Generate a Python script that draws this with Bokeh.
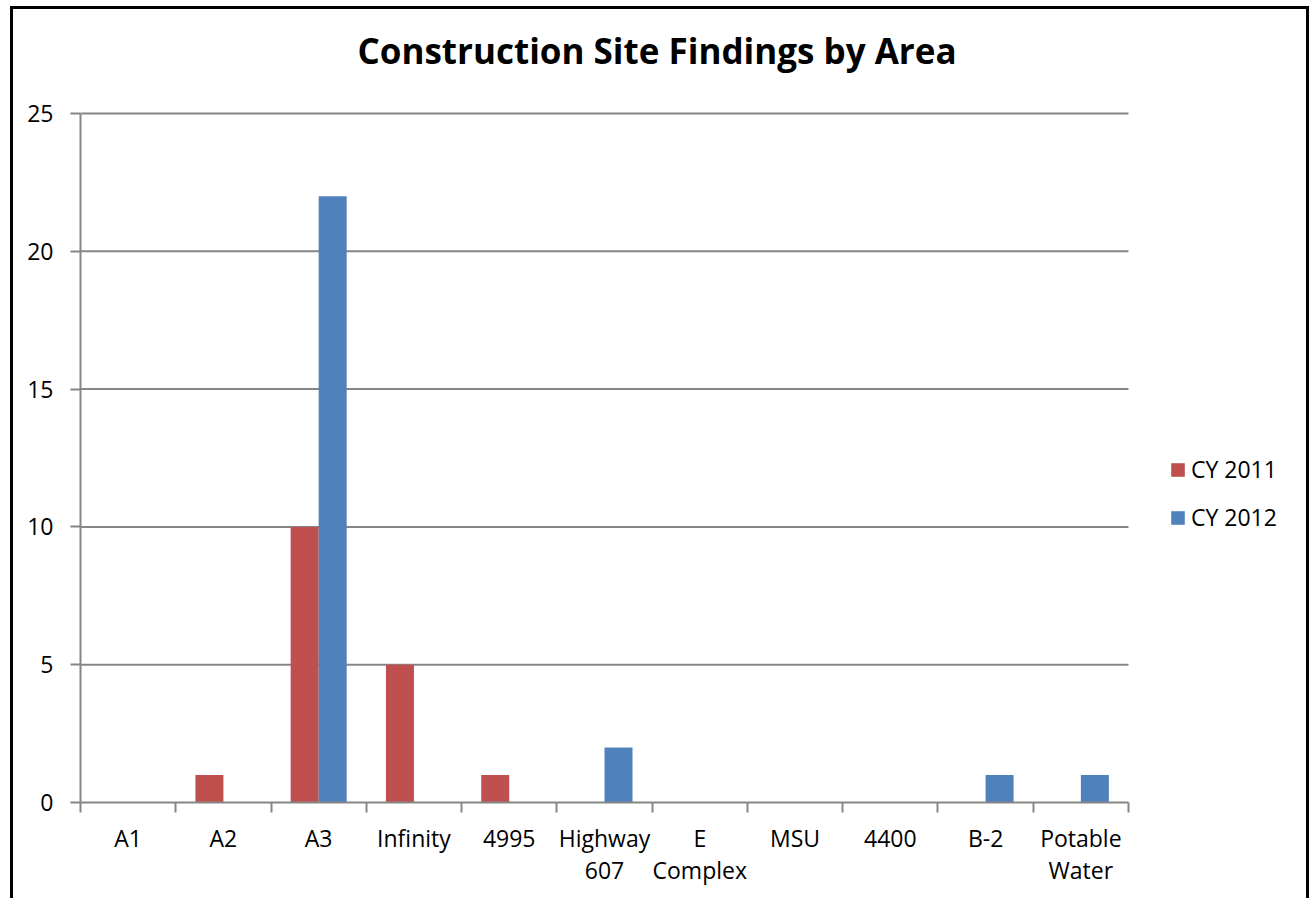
from bokeh.plotting import figure
from bokeh.models import (FixedTicker, Legend, LegendItem, ColumnDataSource,
                          Range1d, Title)
from bokeh.embed import file_html
from bokeh.resources import INLINE
import numpy as np

# ---- data ----
areas = ["A1", "A2", "A3", "Infinity", "4995", "Highway\n607", "E\nComplex",
         "MSU", "4400", "B-2", "Potable\nWater"]
cy2011 = [0, 1, 10, 5, 1, 0, 0, 0, 0, 0, 0]
cy2012 = [0, 0, 22, 0, 0, 2, 0, 0, 0, 1, 1]
series_names = ["CY 2011", "CY 2012"]
y_ticks = [0, 5, 10, 15, 20, 25]

RED = "#C0504D"
BLUE = "#4F81BD"
GRID = "#868686"
FONT = "Open Sans"

n = len(areas)
y_max = y_ticks[-1]
centers = np.arange(n) + 0.5
bw = 0.294

# layout (pixels)
W, H = 1299, 892
PLOT_W = 1048          # width of the category area
PLOT_H = 689           # height of 0..25
LEFT, RIGHT_EXTRA, RIGHT = 67, 178, 6
TOP_PAD = 2
TOP = 102
BOTTOM = H - TOP - TOP_PAD - PLOT_H

x_end = n * (PLOT_W + RIGHT_EXTRA) / PLOT_W
y_end = y_max * (PLOT_H + TOP_PAD) / PLOT_H

p = figure(width=W, height=H, output_backend="svg", toolbar_location=None,
           x_range=Range1d(0, x_end), y_range=Range1d(0, y_end),
           min_border_left=LEFT, min_border_right=RIGHT, min_border_top=TOP,
           min_border_bottom=BOTTOM, title="Construction Site Findings by Area")
p.styles = {"border-top": "3px solid black", "border-left": "3px solid black",
            "border-right": "3px solid black", "margin-left": "10px",
            "margin-top": "6px"}
p.outline_line_color = None
p.background_fill_color = "white"
p.border_fill_color = "white"

p.title.text_font = FONT
p.title.text_font_size = "35px"
p.title.text_font_style = "bold"
p.title.text_color = "black"
p.title.align = "left"
p.title.offset = 277
p.title.standoff = 10
spacer = Title(text=" ", text_font=FONT, text_font_size="22px", standoff=1)
p.add_layout(spacer, "above")

# horizontal grid lines limited to the category area
p.segment(x0=0, x1=n, y0=y_ticks[1:], y1=y_ticks[1:], line_color=GRID, line_width=2)

src11 = ColumnDataSource(dict(x=centers - bw / 2, top=cy2011))
src12 = ColumnDataSource(dict(x=centers + bw / 2, top=cy2012))
r1 = p.vbar(x="x", top="top", bottom=0, width=bw, source=src11, fill_color=RED, line_color=None)
r2 = p.vbar(x="x", top="top", bottom=0, width=bw, source=src12, fill_color=BLUE, line_color=None)

# x axis: labels at category centres, ticks at category boundaries
xa = p.xaxis[0]
xa.bounds = (0, n)
xa.ticker = FixedTicker(ticks=list(centers), minor_ticks=list(range(n + 1)))
xa.major_label_overrides = {float(c): lab for c, lab in zip(centers, areas)}
xa.major_tick_out = 0
xa.major_tick_in = 0
xa.minor_tick_out = 10
xa.minor_tick_in = 0
xa.minor_tick_line_color = GRID
xa.minor_tick_line_width = 2
xa.axis_line_color = GRID
xa.axis_line_width = 2
xa.major_label_text_font = FONT
xa.major_label_text_font_size = "23px"
xa.major_label_text_color = "black"
xa.major_label_text_line_height = 1.0
xa.major_label_standoff = 9
xa.major_label_orientation = "horizontal"

ya = p.yaxis[0]
ya.bounds = (0, y_max)
ya.ticker = FixedTicker(ticks=y_ticks)
ya.major_tick_out = 10
ya.major_tick_in = 0
ya.minor_tick_line_color = None
ya.major_tick_line_color = GRID
ya.major_tick_line_width = 2
ya.axis_line_color = GRID
ya.axis_line_width = 2
ya.major_label_text_font = FONT
ya.major_label_text_font_size = "23px"
ya.major_label_text_color = "black"
ya.major_label_standoff = 17

p.xgrid.grid_line_color = None
p.ygrid.grid_line_color = None

legend = Legend(items=[LegendItem(label=series_names[0], renderers=[r1]),
                       LegendItem(label=series_names[1], renderers=[r2])],
                location=(1089, 269))
legend.border_line_color = None
legend.background_fill_alpha = 0
legend.label_text_font = FONT
legend.label_text_font_size = "23px"
legend.label_text_color = "black"
legend.glyph_width = 17
legend.glyph_height = 17
legend.label_standoff = 5
legend.spacing = 16
legend.padding = 10
legend.margin = 0
p.add_layout(legend, "center")

open("out.html", "w").write(file_html(p, INLINE))
